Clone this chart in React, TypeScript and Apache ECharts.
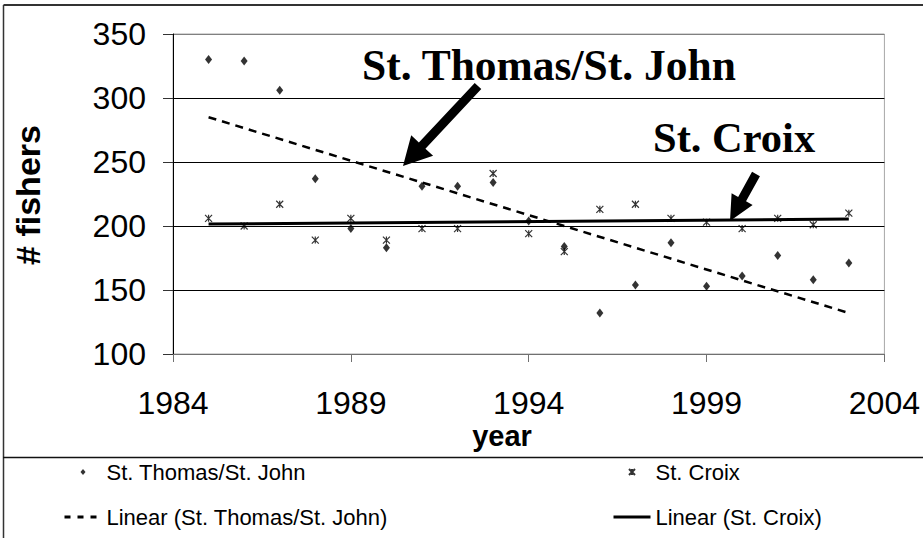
import React, { useEffect, useRef } from "react";
import * as echarts from "echarts";

// ---- data ----
const years = [1985, 1986, 1987, 1988, 1989, 1990, 1991, 1992, 1993, 1994, 1995, 1996, 1997, 1998, 1999, 2000, 2001, 2002, 2003];
const stThomasStJohn = [330, 329, 306, 237, 198, 183, 231, 231, 234, 204, 184, 132, 154, 187, 153, 161, 177, 158, 171];
const stCroix = [206, 200, 217, 189, 206, 189, 198, 198, 241, 194, 180, 213, 217, 206, 203, 198, 206, 201, 210];
const trendYears = [1985, 2003];
const trendStThomas = [285, 132];
const trendStCroix = [201.5, 205.5];

const seriesNames = [
  "St. Thomas/St. John",
  "St. Croix",
  "Linear (St. Thomas/St. John)",
  "Linear (St. Croix)",
];
const xAxisRange = { min: 1984, max: 2004, step: 5 };
const yAxisRange = { min: 100, max: 350, step: 50 };
const xTitle = "year";
const yTitle = "# fishers";
const annotationTitles = ["St. Thomas/St. John", "St. Croix"];

const SANS = "Arial, 'Liberation Sans', sans-serif";
const SERIF = "'Times New Roman', 'Liberation Serif', serif";
const STAR = "path://M0 0L10 10M10 0L0 10M5 0L5 10";
const DIAMOND = "path://M5 0L10 6L5 12L0 6Z";

function arrowPoints(x1: number, y1: number, x2: number, y2: number, shaftW: number, headW: number, headL: number) {
  const dx = x2 - x1;
  const dy = y2 - y1;
  const len = Math.sqrt(dx * dx + dy * dy);
  const ux = dx / len;
  const uy = dy / len;
  const px = -uy;
  const py = ux;
  const bx = x2 - ux * headL;
  const by = y2 - uy * headL;
  const s = shaftW / 2;
  const h = headW / 2;
  return [
    [x1 + px * s, y1 + py * s],
    [bx + px * s, by + py * s],
    [bx + px * h, by + py * h],
    [x2, y2],
    [bx - px * h, by - py * h],
    [bx - px * s, by - py * s],
    [x1 - px * s, y1 - py * s],
  ];
}

export default function App() {
  const ref = useRef<HTMLDivElement>(null);

  useEffect(() => {
    if (!ref.current) return;
    const chart = echarts.init(ref.current, undefined, { renderer: "svg" });

    const legendText = { fontSize: 22, fontFamily: SANS, color: "#000" };
    const hiddenSymbol = { opacity: 0 };

    chart.setOption({
      animation: false,
      backgroundColor: "#fff",
      grid: {
        left: 173,
        top: 34,
        right: 36,
        bottom: 184,
        show: true,
        borderColor: "#a8a8a8",
        borderWidth: 1,
      },
      xAxis: {
        type: "value",
        min: xAxisRange.min,
        max: xAxisRange.max,
        interval: xAxisRange.step,
        axisLine: { show: true, lineStyle: { color: "#707070", width: 1 } },
        axisTick: { show: true, inside: false, length: 8, lineStyle: { color: "#707070" } },
        axisLabel: {
          fontSize: 32,
          fontFamily: SANS,
          color: "#000",
          margin: 33,
          formatter: (v: number) => String(v),
        },
        splitLine: { show: false },
      },
      yAxis: {
        type: "value",
        min: yAxisRange.min,
        max: yAxisRange.max,
        interval: yAxisRange.step,
        axisLine: { show: true, lineStyle: { color: "#000", width: 1 } },
        axisTick: { show: true, inside: false, length: 10, lineStyle: { color: "#333" } },
        axisLabel: {
          fontSize: 32,
          fontFamily: SANS,
          color: "#000",
          margin: 27,
          formatter: (v: number) => String(v),
        },
        splitLine: {
          show: true,
          lineStyle: { color: ["#707070", "#000", "#000", "#000", "#000", "#808080"], width: 1 },
        },
      },
      legend: [
        {
          data: [
            { name: seriesNames[0] },
            { name: seriesNames[2], itemStyle: hiddenSymbol },
          ],
          orient: "vertical",
          left: 63,
          top: 461,
          padding: 0,
          itemWidth: 37,
          itemHeight: 6,
          itemGap: 23,
          selectedMode: false,
          lineStyle: { width: 3, type: [6, 7] },
          textStyle: legendText,
        },
        {
          data: [
            { name: seriesNames[1] },
            { name: seriesNames[3], itemStyle: hiddenSymbol },
          ],
          orient: "vertical",
          left: 612,
          top: 461,
          padding: 0,
          itemWidth: 37,
          itemHeight: 6,
          itemGap: 23,
          selectedMode: false,
          lineStyle: { width: 3, type: "solid" },
          textStyle: legendText,
        },
      ],
      series: [
        {
          name: seriesNames[2],
          type: "line",
          symbol: "none",
          data: trendYears.map((y, i) => [y, trendStThomas[i]]),
          itemStyle: { color: "#000" },
          lineStyle: { color: "#000", width: 2.5, type: [8, 6] },
          z: 2,
        },
        {
          name: seriesNames[3],
          type: "line",
          symbol: "none",
          data: trendYears.map((y, i) => [y, trendStCroix[i]]),
          itemStyle: { color: "#000" },
          lineStyle: { color: "#000", width: 3, type: "solid" },
          z: 2,
        },
        {
          name: seriesNames[0],
          type: "scatter",
          symbol: DIAMOND,
          symbolSize: [7, 9],
          data: years.map((y, i) => [y, stThomasStJohn[i]]),
          itemStyle: { color: "#000" },
          z: 3,
        },
        {
          name: seriesNames[1],
          type: "scatter",
          symbol: STAR,
          symbolSize: 7,
          data: years.map((y, i) => [y, stCroix[i]]),
          itemStyle: { color: "#000", borderColor: "#000", borderWidth: 1.2 },
          z: 3,
        },
      ],
      graphic: [
        { type: "line", shape: { x1: 3.5, y1: 5, x2: 923, y2: 5 }, style: { stroke: "#333", lineWidth: 2 } },
        { type: "line", shape: { x1: 3.5, y1: 5, x2: 3.5, y2: 538 }, style: { stroke: "#333", lineWidth: 1.5 } },
        { type: "line", shape: { x1: 3, y1: 457.5, x2: 923, y2: 457.5 }, style: { stroke: "#111", lineWidth: 1.5 } },
        {
          type: "text",
          x: 28,
          y: 195,
          rotation: Math.PI / 2,
          style: { text: yTitle, font: `bold 34px ${SANS}`, fill: "#000", align: "center", verticalAlign: "middle" },
        },
        {
          type: "text",
          x: 502,
          y: 436,
          style: { text: xTitle, font: `bold 29px ${SANS}`, fill: "#000", align: "center", verticalAlign: "middle" },
        },
        {
          type: "text",
          x: 362,
          y: 65,
          style: { text: annotationTitles[0], font: `bold 43.5px ${SERIF}`, fill: "#000", align: "left", verticalAlign: "middle" },
        },
        {
          type: "text",
          x: 653,
          y: 137,
          style: { text: annotationTitles[1], font: `bold 42.5px ${SERIF}`, fill: "#000", align: "left", verticalAlign: "middle" },
        },
        {
          type: "polygon",
          shape: { points: arrowPoints(478, 86, 403, 166, 9, 30, 28) },
          style: { fill: "#000" },
          z: 10,
        },
        {
          type: "polygon",
          shape: { points: arrowPoints(756, 174, 730, 221, 9, 24, 25) },
          style: { fill: "#000" },
          z: 10,
        },
      ],
    });

    return () => chart.dispose();
  }, []);

  return (
    <div
      ref={ref}
      style={{ position: "absolute", left: 0, top: 0, width: 923, height: 538, background: "#fff" }}
    />
  );
}
